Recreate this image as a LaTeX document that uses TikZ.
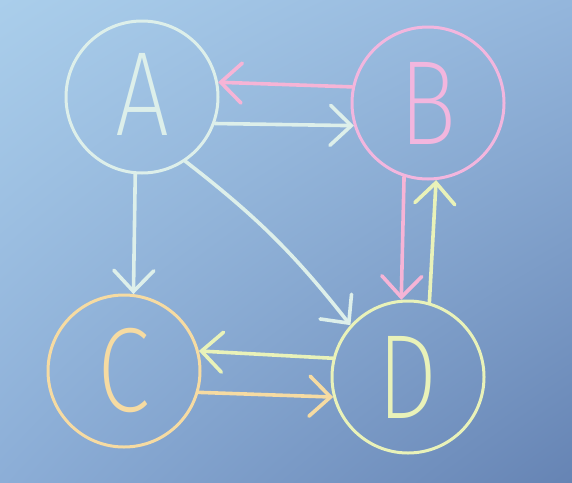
\documentclass[tikz,border=0pt]{standalone}
\usepackage{fontspec}
\newfontfamily\chalkfont{Fira Sans ExtraLight}
\usetikzlibrary{arrows.meta,shadings}

\definecolor{bgtl}{HTML}{AACEEB}
\definecolor{bgtr}{HTML}{94B6DC}
\definecolor{bgbl}{HTML}{8CAED7}
\definecolor{bgbr}{HTML}{6684B4}
\definecolor{chalkA}{HTML}{DDEFEA}
\definecolor{chalkB}{HTML}{F2B6DE}
\definecolor{chalkC}{HTML}{F6DBA2}
\definecolor{chalkD}{HTML}{E9F2B9}
\definecolor{chalkpink}{HTML}{F6B4D6}

\begin{document}
\begin{tikzpicture}[x=1pt,y=-1pt]
        % Define styles for shapes
        \tikzstyle{vertex} = [circle, draw, line width=3pt, minimum size=152pt, inner sep=0pt, font=\chalkfont\fontsize{120}{120}\selectfont]
        \tikzstyle{edge} = [line width=3.6pt, line cap=round, -{Straight Barb[length=21pt,width=40pt,line cap=round]}]

        % Background
        \shade[upper left=bgtl, upper right=bgtr, lower left=bgbl, lower right=bgbr] (0,0) rectangle (572,482);

        % Draw shapes
        \node[vertex, draw=chalkA, text=chalkA] (A) at (142,97) {\raisebox{5pt}{\scalebox{0.8}[1]{A}}};
        \node[vertex, draw=chalkB, text=chalkB] (B) at (428,103) {\scalebox{0.8}[1]{B}};
        \node[vertex, draw=chalkC, text=chalkC] (C) at (124,371) {\scalebox{0.8}[1]{C}};
        \node[vertex, draw=chalkD, text=chalkD] (D) at (408,377) {\scalebox{0.8}[1]{D}};

        % Draw arrows
        \draw[edge, draw=chalkpink] (B.168) -- (A.11);
        \draw[edge, draw=chalkA] (A.-20) -- (B.197);
        \draw[edge, draw=chalkA] (A.-95) -- (C.83);
        \draw[edge, draw=chalkA] (A.-56) to[bend left=7] (D.138);
        \draw[edge, draw=chalkpink] (B.-108) -- (D.95);
        \draw[edge, draw=chalkD] (D.74) -- (B.-84);
        \draw[edge, draw=chalkD] (D.166) -- (C.15);
        \draw[edge, draw=chalkC] (C.-16) -- (D.195);
\end{tikzpicture}
\end{document}
